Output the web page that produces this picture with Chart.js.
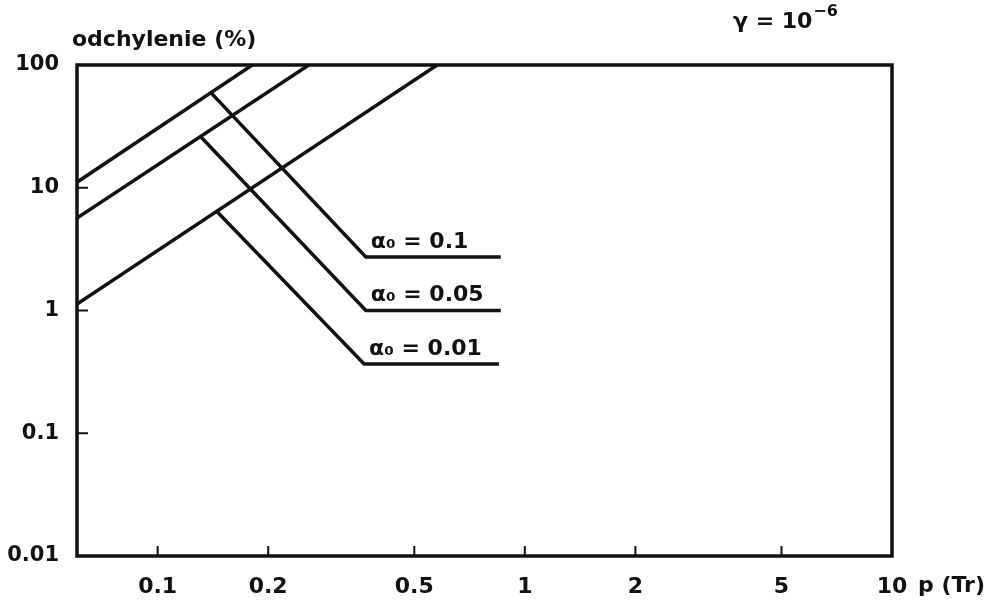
<!DOCTYPE html>
<html>
<head>
<meta charset="utf-8">
<script src="https://cdn.jsdelivr.net/npm/chart.js@4.4.1/dist/chart.umd.min.js"></script>
<style>
  html, body { margin: 0; padding: 0; background: #fff; }
  #wrap { width: 997px; height: 607px; }
</style>
</head>
<body>
<div id="wrap"><canvas id="devChart" width="997" height="607"></canvas></div>
<script>
// deviation (%) vs pressure p (Tr), gamma = 1e-6
const alphaLabels = ['α₀ = 0.1', 'α₀ = 0.05', 'α₀ = 0.01'];

// rising branches, from the left edge up to 100 %
const riseStartP = [0.0603, 0.0603, 0.0603];
const riseStartDev = [11.1, 5.67, 1.13];
const riseEndP = [0.181, 0.258, 0.577];
const riseEndDev = [100, 100, 100];

// falling branches that level off into a plateau
const fallStartP = [0.140, 0.131, 0.145];
const fallStartDev = [59, 26, 6.4];
const kneeP = [0.369, 0.369, 0.365];
const plateauDev = [2.73, 1.0, 0.366];
const plateauEndP = [0.86, 0.86, 0.85];

const pTicks = [0.1, 0.2, 0.5, 1, 2, 5, 10];
const devTicks = [0.01, 0.1, 1, 10, 100];

const ink = '#111';
const fontFamily = "'DejaVu Sans', sans-serif";

const datasets = [];
riseStartP.forEach((p, i) => {
    datasets.push({
        label: 'rise ' + i,
        data: [{ x: p, y: riseStartDev[i] }, { x: riseEndP[i], y: riseEndDev[i] }]
    });
});
fallStartP.forEach((p, i) => {
    datasets.push({
        label: alphaLabels[i],
        data: [
            { x: p, y: fallStartDev[i] },
            { x: kneeP[i], y: plateauDev[i] },
            { x: plateauEndP[i], y: plateauDev[i] }
        ]
    });
});
datasets.forEach(ds => {
    ds.showLine = true;
    ds.borderColor = ink;
    ds.borderWidth = 3.5;
    ds.pointRadius = 0;
    ds.tension = 0;
});

// frame, inner tick marks and free text
const decorations = {
    id: 'decorations',
    afterDraw(chart) {
        const { ctx, chartArea: a, scales } = chart;
        const xs = scales.x, ys = scales.y;
        ctx.save();
        ctx.strokeStyle = ink;
        ctx.lineWidth = 3.5;
        ctx.lineCap = 'square';
        ctx.strokeRect(a.left, a.top, a.right - a.left, a.bottom - a.top);

        ctx.lineWidth = 2;
        pTicks.forEach(v => {
            const x = xs.getPixelForValue(v);
            if (x >= a.right - 2) return;
            ctx.beginPath();
            ctx.moveTo(x, a.bottom);
            ctx.lineTo(x, a.bottom - 9);
            ctx.stroke();
        });
        devTicks.forEach(v => {
            const y = ys.getPixelForValue(v);
            if (y <= a.top + 2 || y >= a.bottom - 2) return;
            ctx.beginPath();
            ctx.moveTo(a.left, y);
            ctx.lineTo(a.left + 10, y);
            ctx.stroke();
        });

        ctx.fillStyle = ink;
        ctx.font = 'bold 22px ' + fontFamily;
        ctx.textBaseline = 'bottom';
        ctx.textAlign = 'left';
        kneeP.forEach((p, i) => {
            const x = xs.getPixelForValue(p) + 5;
            const y = ys.getPixelForValue(plateauDev[i]) - 4;
            ctx.fillText(alphaLabels[i], x, y);
        });

        ctx.textBaseline = 'middle';
        ctx.fillText('odchylenie (%)', 72, 40);
        ctx.fillText('p (Tr)', 918, 586);

        ctx.fillText('γ = 10', 733, 22);
        const w = ctx.measureText('γ = 10').width;
        ctx.font = 'bold 16px ' + fontFamily;
        ctx.fillText('−6', 733 + w + 1, 12);
        ctx.restore();
    }
};

const devCtx = document.getElementById('devChart').getContext('2d');
new Chart(devCtx, {
    type: 'scatter',
    data: { datasets: datasets },
    options: {
        responsive: false,
        animation: false,
        layout: {
            padding: { top: 65, right: 105, left: 0, bottom: 0 }
        },
        plugins: {
            legend: { display: false },
            tooltip: { enabled: false }
        },
        scales: {
            x: {
                type: 'logarithmic',
                min: 0.0603,
                max: 10,
                afterFit: function(scale) { scale.height = 51; },
                afterBuildTicks: function(scale) {
                    scale.ticks = pTicks.map(v => ({ value: v }));
                },
                grid: { display: false },
                border: { display: false },
                ticks: {
                    padding: 10,
                    color: ink,
                    maxRotation: 0,
                    autoSkip: false,
                    font: { family: fontFamily, size: 22, weight: 'bold' },
                    callback: function(value) { return String(value); }
                }
            },
            y: {
                type: 'logarithmic',
                min: 0.01,
                max: 100,
                afterFit: function(scale) { scale.width = 77; },
                afterBuildTicks: function(scale) {
                    scale.ticks = devTicks.map(v => ({ value: v }));
                },
                grid: { display: false },
                border: { display: false },
                ticks: {
                    padding: 10,
                    color: ink,
                    autoSkip: false,
                    font: { family: fontFamily, size: 21, weight: 'bold' },
                    callback: function(value) { return String(value); }
                }
            }
        }
    },
    plugins: [decorations]
});
</script>
</body>
</html>
